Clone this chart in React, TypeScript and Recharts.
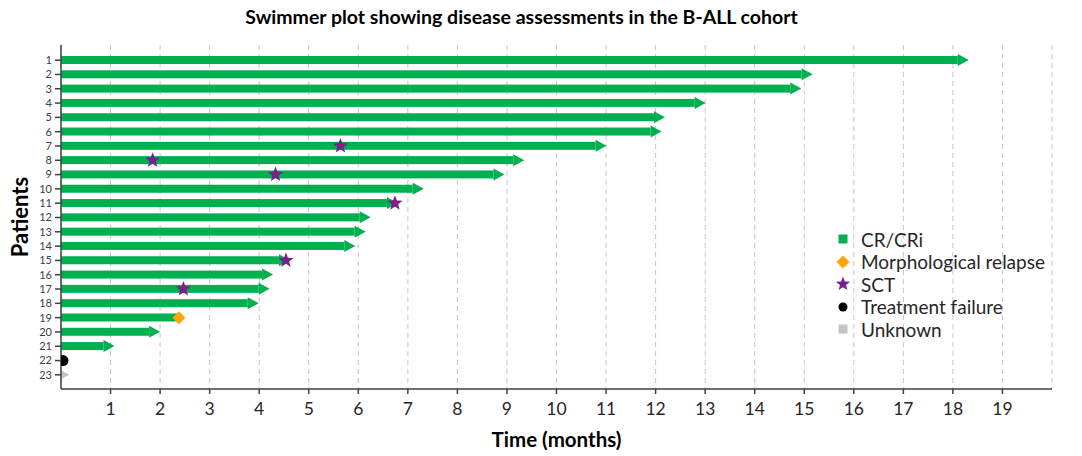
import { ComposedChart, Bar, Scatter, XAxis, YAxis, CartesianGrid } from "recharts";

const FONT = "Lato, 'Open Sans', sans-serif";

// one entry per patient, top to bottom
const patients = ["1", "2", "3", "4", "5", "6", "7", "8", "9", "10", "11", "12", "13", "14", "15", "16", "17", "18", "19", "20", "21", "22", "23"];
const responseEnd = [18.32, 15.17, 14.94, 13.01, 12.19, 12.12, 11.01, 9.35, 8.95, 7.32, 6.8, 6.25, 6.15, 5.94, 4.62, 4.28, 4.21, 3.99, 2.38, 2.0, 1.08, 0, 0.17];
const responseType = ["CR", "CR", "CR", "CR", "CR", "CR", "CR", "CR", "CR", "CR", "CR", "CR", "CR", "CR", "CR", "CR", "CR", "CR", "CR", "CR", "CR", "none", "Unknown"];
const ongoing = [true, true, true, true, true, true, true, true, true, true, true, true, true, true, true, true, true, true, false, true, true, false, true];
const sctTime = [null, null, null, null, null, null, 5.64, 1.85, 4.33, null, 6.74, null, null, null, 4.54, null, 2.47, null, null, null, null, null, null];
const relapseTime = [null, null, null, null, null, null, null, null, null, null, null, null, null, null, null, null, null, null, 2.38, null, null, null, null];
const failureTime = [null, null, null, null, null, null, null, null, null, null, null, null, null, null, null, null, null, null, null, null, null, 0.04, null];

const xTicks = [1, 2, 3, 4, 5, 6, 7, 8, 9, 10, 11, 12, 13, 14, 15, 16, 17, 18, 19];

const legendItems = ["CR/CRi", "Morphological relapse", "SCT", "Treatment failure", "Unknown"];

const GREEN = "#00b050";
const ORANGE = "#ffa500";
const PURPLE = "#7b1f8c";
const BLACK = "#000000";
const GRAY = "#c4c4c4";

const TYPE_COLORS: Record<string, string> = { CR: GREEN, Unknown: GRAY, none: "transparent" };

const rows = patients.map((p, i) => ({
  patient: p,
  end: responseEnd[i],
  type: responseType[i],
  ongoing: ongoing[i],
  sct: sctTime[i],
  relapse: relapseTime[i],
  failure: failureTime[i],
}));

function ArrowBar(props: any) {
  const { x, y, width, height, payload } = props;
  if (!width || width <= 0) return <g />;
  const fill = TYPE_COLORS[payload.type];
  if (!payload.ongoing) return <rect x={x} y={y} width={width} height={height} fill={fill} />;
  const cy = y + height / 2;
  const head = Math.min(11, width);
  const half = payload.type === "Unknown" ? 4.5 : 6;
  const sx = x + width - head;
  return (
    <g>
      {sx > x && <rect x={x} y={y} width={sx - x} height={height} fill={fill} />}
      <polygon points={`${sx},${cy - half} ${x + width},${cy} ${sx},${cy + half}`} fill={fill} />
    </g>
  );
}

function starPoints(cx: number, cy: number, r: number, ri: number) {
  const pts: string[] = [];
  for (let k = 0; k < 10; k++) {
    const rr = k % 2 === 0 ? r : ri;
    const a = -Math.PI / 2 + (k * Math.PI) / 5;
    pts.push(`${cx + rr * Math.cos(a)},${cy + rr * Math.sin(a)}`);
  }
  return pts.join(" ");
}

function Star({ cx, cy, r = 8 }: any) {
  return <polygon points={starPoints(cx, cy, r, r * 0.42)} fill={PURPLE} />;
}
function Diamond({ cx, cy, r = 6.5 }: any) {
  return <polygon points={`${cx},${cy - r} ${cx + r},${cy} ${cx},${cy + r} ${cx - r},${cy}`} fill={ORANGE} />;
}
function Dot({ cx, cy, r = 5.5 }: any) {
  return <circle cx={cx} cy={cy} r={r} fill={BLACK} />;
}

const markerShape = (key: string, Comp: any) => (props: any) => {
  if (props.payload?.[key] == null || props.cx == null || isNaN(props.cx)) return <g />;
  return <Comp cx={props.cx} cy={props.cy} />;
};

function LegendMarker({ name }: { name: string }) {
  const s = 16;
  const c = s / 2;
  let mark = null;
  if (name === "CR/CRi") mark = <rect x={c - 4.5} y={c - 4.5} width={9} height={9} fill={GREEN} />;
  else if (name === "Morphological relapse") mark = <Diamond cx={c} cy={c} r={6.5} />;
  else if (name === "SCT") mark = <Star cx={c} cy={c} r={7.5} />;
  else if (name === "Treatment failure") mark = <Dot cx={c} cy={c} r={4.5} />;
  else mark = <rect x={c - 4.5} y={c - 4.5} width={9} height={9} fill={GRAY} />;
  return (
    <svg width={s} height={s} style={{ marginRight: 10, flexShrink: 0 }}>
      {mark}
    </svg>
  );
}

function ChartLegend() {
  return (
    <div
      style={{
        position: "absolute",
        left: 835,
        top: 228,
        fontFamily: FONT,
        fontSize: 19,
        color: "#262626",
      }}
    >
      {legendItems.map((name) => (
        <div key={name} style={{ display: "flex", alignItems: "center", height: 22.5 }}>
          <LegendMarker name={name} />
          <span>{name}</span>
        </div>
      ))}
    </div>
  );
}

export default function App() {
  return (
    <div style={{ position: "absolute", left: 0, top: 0, width: 1082, height: 456, background: "#fff", fontFamily: FONT }}>
      <div
        style={{
          position: "absolute",
          left: 0,
          top: 5,
          width: 1043,
          textAlign: "center",
          fontSize: 19.5,
          fontWeight: 700,
          color: "#000",
        }}
      >
        Swimmer plot showing disease assessments in the B-ALL cohort
      </div>
      <ComposedChart
        layout="vertical"
        width={1082}
        height={456}
        data={rows}
        margin={{ top: 45, right: 30, bottom: 0, left: 0 }}
      >
        <CartesianGrid horizontal={false} stroke="#c6c6c6" strokeDasharray="5 4" />
        <XAxis
          type="number"
          domain={[0, 20]}
          ticks={xTicks}
          allowDataOverflow
          height={67}
          tickSize={5}
          tickMargin={9}
          stroke="#404040"
          strokeWidth={1.5}
          tick={{ fill: "#262626", fontSize: 17.5, fontFamily: FONT }}
          label={{
            value: "Time (months)",
            position: "insideBottom",
            offset: 9,
            fill: "#000",
            fontSize: 20.5,
            fontWeight: 700,
            fontFamily: FONT,
          }}
        />
        <YAxis
          type="category"
          dataKey="patient"
          width={61}
          padding={{ top: 8, bottom: 7 }}
          interval={0}
          tickSize={6}
          tickMargin={3}
          stroke="#404040"
          strokeWidth={1.5}
          tick={{ fill: "#404040", fontSize: 11, fontFamily: FONT }}
          label={({ viewBox }: any) => (
            <text
              x={19}
              y={viewBox.y + viewBox.height / 2}
              transform={`rotate(-90, 19, ${viewBox.y + viewBox.height / 2})`}
              textAnchor="middle"
              dominantBaseline="central"
              fontFamily={FONT}
              fontSize={22}
              fontWeight={700}
              fill="#000"
            >
              Patients
            </text>
          )}
        />
        <Bar dataKey="end" barSize={8} shape={ArrowBar} isAnimationActive={false} />
        <Scatter dataKey="relapse" shape={markerShape("relapse", Diamond)} isAnimationActive={false} />
        <Scatter dataKey="sct" shape={markerShape("sct", Star)} isAnimationActive={false} />
        <Scatter dataKey="failure" shape={markerShape("failure", Dot)} isAnimationActive={false} />
      </ComposedChart>
      <ChartLegend />
    </div>
  );
}
